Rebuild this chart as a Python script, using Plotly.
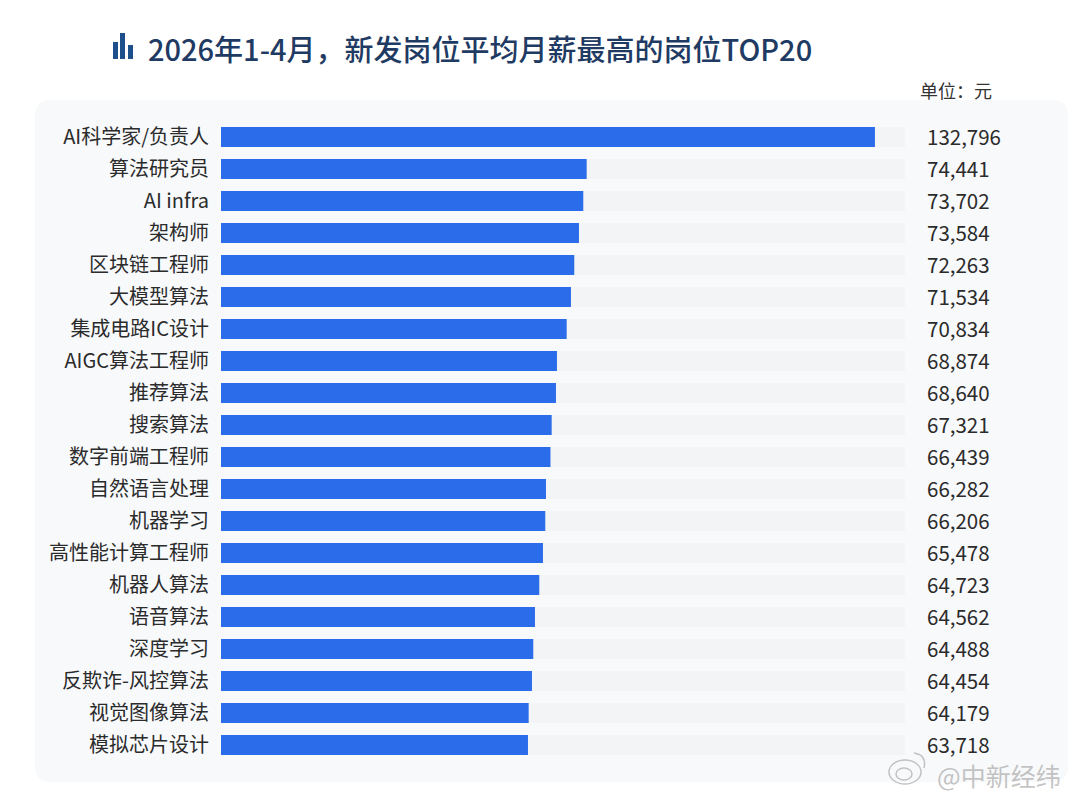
import plotly.graph_objects as go

categories = ["AI科学家/负责人", "算法研究员", "AI infra", "架构师", "区块链工程师", "大模型算法", "集成电路IC设计",
              "AIGC算法工程师", "推荐算法", "搜索算法", "数字前端工程师", "自然语言处理", "机器学习", "高性能计算工程师",
              "机器人算法", "语音算法", "深度学习", "反欺诈-风控算法", "视觉图像算法", "模拟芯片设计"]
# the numbers printed beside each bar
salaries = [132796, 74441, 73702, 73584, 72263, 71534, 70834, 68874, 68640, 67321,
            66439, 66282, 66206, 65478, 64723, 64562, 64488, 64454, 64179, 63718]
# the lengths the bars are actually drawn at in the picture, read off their ends
# (the source's bars run slightly shorter than its printed numbers)
bar_lengths = [132796, 74256, 73566, 72692, 71739, 71068, 70195, 68225, 68022, 67149,
               66905, 65991, 65849, 65382, 64631, 63758, 63412, 63149, 62479, 62336]
track_max = 138900
track_values = [track_max] * len(categories)
title_text = "2026年1-4月，新发岗位平均月薪最高的岗位TOP20"
unit_text = "单位：元"
watermark_text = "@中新经纬"

FONT = "Noto Sans CJK SC"
W, H = 1080, 795
L, R, T, B = 221, 175, 121, 34


def px(x):
    return (x - L) / (W - L - R)


def py(y):
    return 1 - (y - T) / (H - T - B)


fig = go.Figure()
fig.add_bar(y=categories, x=track_values, orientation="h", marker=dict(color="#f3f4f5", line_width=0),
            hoverinfo="skip", showlegend=False)
fig.add_bar(y=categories, x=bar_lengths, orientation="h", marker=dict(color="#2b6cea", line_width=0),
            customdata=salaries, hovertemplate="%{y}: %{customdata:,}<extra></extra>", showlegend=False)

annotations = [
    dict(xref="paper", yref="y", x=px(924.5), y=c, text=f"{v:,}", showarrow=False, xanchor="left",
         yanchor="middle", yshift=1, font=dict(family=FONT, size=20.5, color="#2b2b2b"))
    for c, v in zip(categories, salaries)
]
annotations += [
    dict(xref="paper", yref="paper", x=px(146), y=py(48), text=title_text, showarrow=False, xanchor="left",
         yanchor="middle", font=dict(family=FONT, size=29, color="#1f3b63", weight=500)),
    dict(xref="paper", yref="paper", x=px(918), y=py(90), text=unit_text, showarrow=False, xanchor="left",
         yanchor="middle", font=dict(family=FONT, size=18, color="#333333")),
    dict(xref="paper", yref="paper", x=px(935), y=py(775), text=watermark_text, showarrow=False, xanchor="left",
         yanchor="middle", font=dict(family=FONT, size=25, color="rgba(170,170,170,0.7)")),
]

# rounded panel behind the plot, in pixel positions
x0, x1, y0, y1, r = 35, 1068, 100, 782, 16
panel = (f"M {px(x0+r)} {py(y0)} L {px(x1-r)} {py(y0)} Q {px(x1)} {py(y0)} {px(x1)} {py(y0+r)} "
         f"L {px(x1)} {py(y1-r)} Q {px(x1)} {py(y1)} {px(x1-r)} {py(y1)} L {px(x0+r)} {py(y1)} "
         f"Q {px(x0)} {py(y1)} {px(x0)} {py(y1-r)} L {px(x0)} {py(y0+r)} Q {px(x0)} {py(y0)} {px(x0+r)} {py(y0)} Z")
shapes = [dict(type="path", xref="paper", yref="paper", path=panel, fillcolor="#f8f9fb", line_width=0, layer="below")]
# title icon
for a, b, top in [(113, 118, 42), (120, 125, 33), (128, 133, 45)]:
    shapes.append(dict(type="rect", xref="paper", yref="paper", x0=px(a), x1=px(b), y0=py(59), y1=py(top),
                       fillcolor="#1d4f8c", line_width=0))
# watermark logo
logo_line = dict(color="rgba(170,170,170,0.7)", width=1.5)
shapes.append(dict(type="circle", xref="paper", yref="paper", x0=px(889), x1=px(921), y0=py(784), y1=py(760),
                   fillcolor="rgba(0,0,0,0)", line=logo_line))
shapes.append(dict(type="circle", xref="paper", yref="paper", x0=px(896), x1=px(912), y0=py(780), y1=py(768),
                   fillcolor="rgba(0,0,0,0)", line=logo_line))
shapes.append(dict(type="path", xref="paper", yref="paper",
                   path=f"M {px(914)} {py(753)} Q {px(927)} {py(755)} {px(924)} {py(768)}",
                   line=logo_line))

fig.update_layout(
    width=W, height=H, barmode="overlay", bargap=0.375,
    margin=dict(l=L, r=R, t=T, b=B, autoexpand=False),
    paper_bgcolor="white", plot_bgcolor="rgba(0,0,0,0)",
    font=dict(family=FONT),
    xaxis=dict(range=[0, track_max], visible=False),
    yaxis=dict(range=[len(categories) - 0.5, -0.5], showline=False, showgrid=False, zeroline=False, ticks="",
               ticklabelstandoff=11, tickfont=dict(family=FONT, size=20, color="#2b2b2b")),
    annotations=annotations, shapes=shapes,
)
fig.write_html("out.html", config={"displayModeBar": False}, post_script="document.body.style.margin='0';")
